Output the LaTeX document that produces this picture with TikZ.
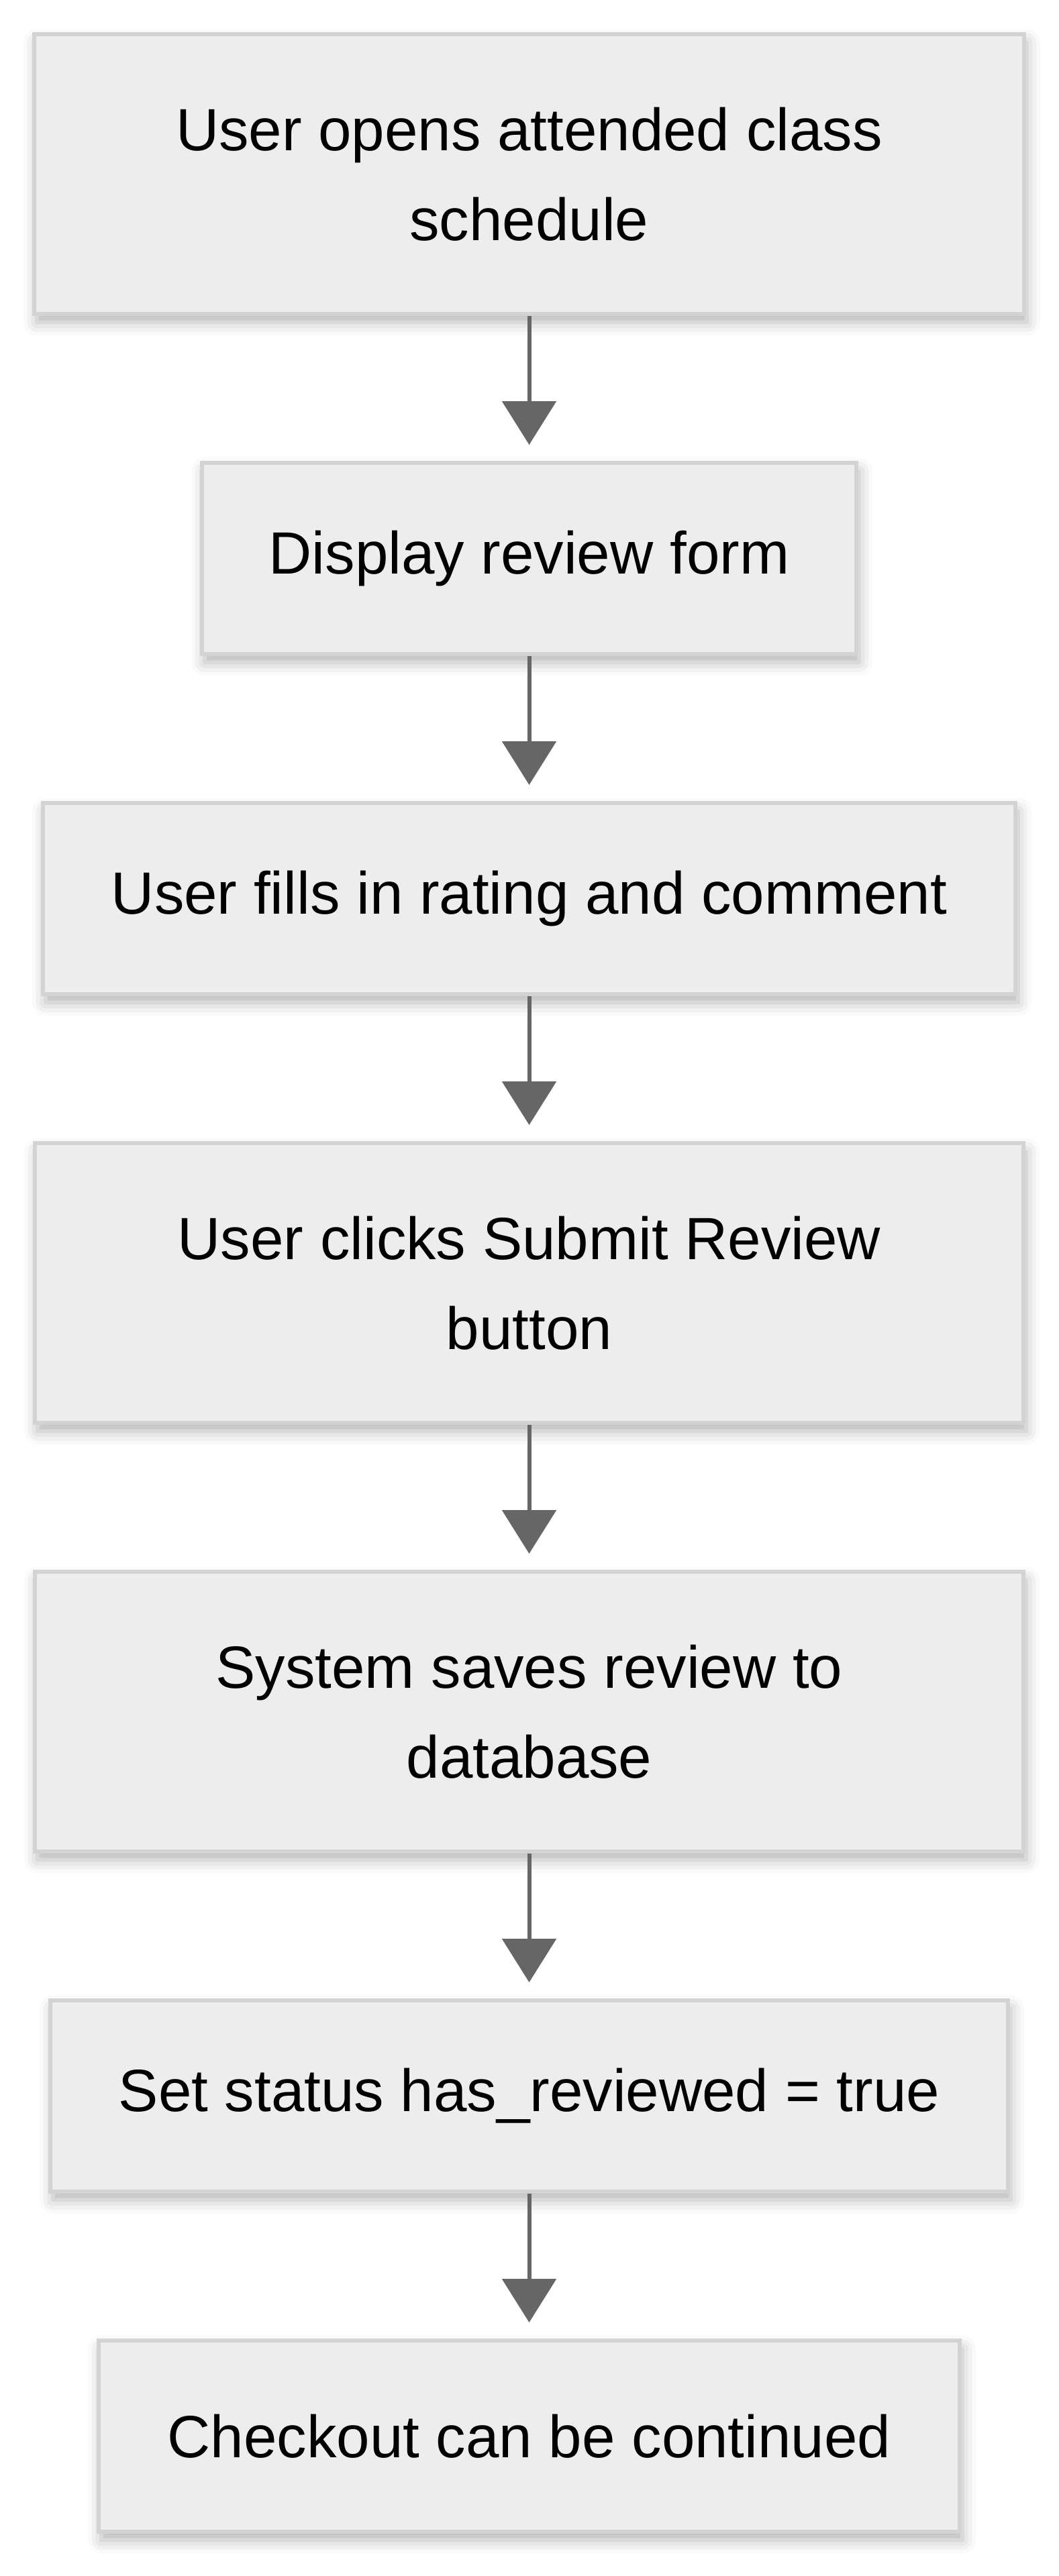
\documentclass[tikz,border=0pt]{standalone}
\usepackage{fontspec}
\setmainfont{Liberation Sans}
\usetikzlibrary{arrows.meta,shadows.blur}

\definecolor{boxfill}{HTML}{EDEDED}
\definecolor{boxline}{HTML}{D3D3D3}
\definecolor{arrowgray}{HTML}{666666}

\begin{document}
\begin{tikzpicture}[
    stepbox/.style={draw=boxline, line width=0.12cm, fill=boxfill, align=center,
        font=\fontsize{50.6pt}{76.5pt}\selectfont, inner sep=0pt,
        blur shadow={shadow xshift=0.08cm, shadow yshift=-0.25cm,
            shadow blur radius=0.4cm, shadow opacity=30}},
    onerow/.style={stepbox, minimum height=5.70cm},
    tworow/.style={stepbox, minimum height=8.34cm},
    flow/.style={draw=arrowgray, line width=0.12cm, shorten >=0.48cm,
        -{Triangle[length=1.3cm, width=1.6cm]}}
  ]
    \useasboundingbox (0,0) rectangle (31.54,-76.8);

    % Nodes (review steps, top to bottom)
    \node[tworow, minimum width=29.50cm] (open) at (15.77,-5.19) {User opens attended class\\schedule};
    \node[onerow, minimum width=19.50cm] (form) at (15.77,-16.65) {Display review form};
    \node[onerow, minimum width=28.98cm] (fill) at (15.77,-26.79) {User fills in rating and comment};
    \node[tworow, minimum width=29.46cm] (submit) at (15.77,-38.25) {User clicks Submit Review\\button};
    \node[tworow, minimum width=29.46cm] (save) at (15.77,-51.03) {System saves review to\\database};
    \node[onerow, minimum width=28.54cm] (status) at (15.77,-62.49) {Set status has\_reviewed = true};
    \node[onerow, minimum width=25.66cm] (checkout) at (15.77,-72.63) {Checkout can be continued};

    % Edges (flow of the steps)
    \draw[flow] (open) -- (form);
    \draw[flow] (form) -- (fill);
    \draw[flow] (fill) -- (submit);
    \draw[flow] (submit) -- (save);
    \draw[flow] (save) -- (status);
    \draw[flow] (status) -- (checkout);
\end{tikzpicture}
\end{document}
